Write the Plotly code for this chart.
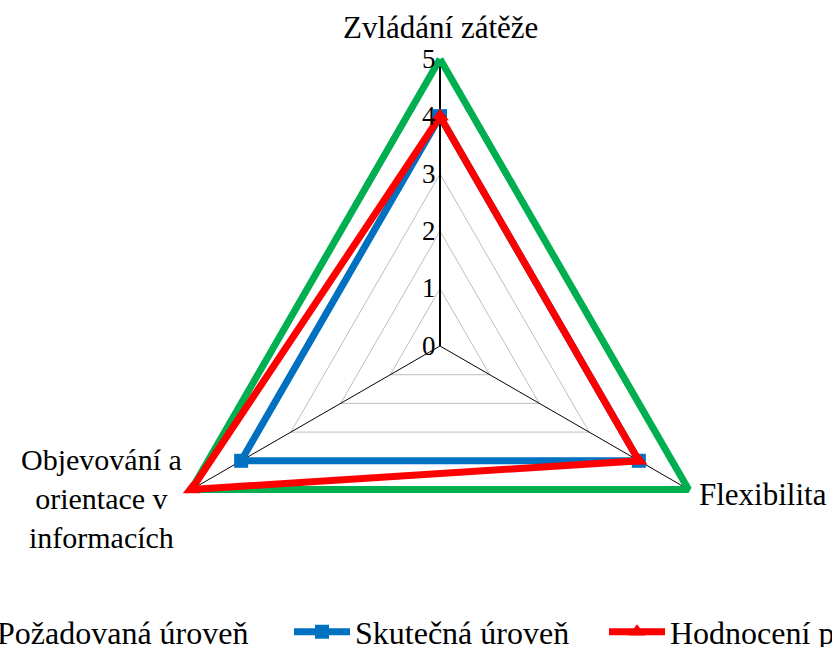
import plotly.graph_objects as go

categories = ["Zvládání zátěže", "Flexibilita", "Objevování a orientace v informacích"]
category_labels = ["Zvládání zátěže", "Flexibilita", "Objevování a<br>orientace v<br>informacích"]
series_names = ["Požadovaná úroveň", "Skutečná úroveň", "Hodnocení pracovníka"]
pozadovana = [5, 5, 5]
skutecna = [4, 4, 4]
hodnoceni = [4, 4, 5]
radial_ticks = [0, 1, 2, 3, 4, 5]
r_max = 5

FONT = "Liberation Serif, Times New Roman, serif"
W, H = 832, 647
CX, CY, R5 = 440, 346, 287          # pixel centre and radius of value 5
RANGE_MAX = 5.2
R_EDGE = R5 * RANGE_MAX / r_max

def closed(v):
    return v + v[:1]

fig = go.Figure()

# spokes (category axes) from 0 to max value
for i, cat in enumerate(categories):
    fig.add_trace(go.Scatterpolar(
        r=[0, r_max], theta=[cat, cat], mode="lines",
        line=dict(color="black", width=2 if i == 0 else 1),
        showlegend=False, hoverinfo="skip"))

fig.add_trace(go.Scatterpolar(
    r=closed(pozadovana), theta=closed(categories), name=series_names[0],
    mode="lines", line=dict(color="#00B050", width=7), cliponaxis=False,
    legend="legend"))
fig.add_trace(go.Scatterpolar(
    r=closed(skutecna), theta=closed(categories), name=series_names[1],
    mode="lines+markers", line=dict(color="#0070C0", width=7),
    marker=dict(symbol="square", size=14, color="#0070C0"), cliponaxis=False,
    legend="legend2"))
fig.add_trace(go.Scatterpolar(
    r=closed(hodnoceni), theta=closed(categories), name=series_names[2],
    mode="lines+markers", line=dict(color="#FF0000", width=7),
    marker=dict(symbol="triangle-up", size=15, color="#FF0000"), cliponaxis=False,
    legend="legend3"))

def leg(xpx):
    return dict(orientation="h", x=xpx / W, xanchor="left", y=1 - 632 / H, yanchor="middle",
                font=dict(size=32, family=FONT), itemwidth=56, bgcolor="rgba(0,0,0,0)")

fig.update_layout(
    width=W, height=H,
    margin=dict(l=0, r=0, t=0, b=0, autoexpand=False),
    paper_bgcolor="white",
    font=dict(family=FONT, size=31, color="black"),
    polar=dict(
        domain=dict(x=[(CX - R_EDGE) / W, (CX + R_EDGE) / W],
                    y=[1 - (CY + R_EDGE) / H, 1 - (CY - R_EDGE) / H]),
        bgcolor="white",
        gridshape="linear",
        angularaxis=dict(
            rotation=90, direction="clockwise",
            showline=False, showgrid=False,
            ticks="", showticklabels=False),
        radialaxis=dict(
            range=[0, RANGE_MAX], tickvals=radial_ticks, angle=90, side="counterclockwise",
            tickangle=90, showline=False,
            gridcolor="#BFBFBF", gridwidth=1, ticks="",
            tickfont=dict(size=27, family=FONT)),
    ),
    legend=leg(-69),
    legend2=leg(289),
    legend3=leg(604),
    showlegend=True,
    annotations=[
        dict(text=category_labels[0], x=440 / W, y=1 - 28 / H, xref="paper", yref="paper",
             xanchor="center", yanchor="middle", showarrow=False, font=dict(size=31, family=FONT)),
        dict(text=category_labels[1], x=697 / W, y=1 - 494 / H, xref="paper", yref="paper",
             xanchor="left", yanchor="middle", showarrow=False, font=dict(size=31, family=FONT)),
        dict(text=category_labels[2], x=184 / W, y=1 - 498 / H, xref="paper", yref="paper",
             xanchor="right", yanchor="middle", align="center", showarrow=False,
             font=dict(size=30, family=FONT)),
    ],
)

fig.write_html("out.html", config={"displayModeBar": False},
               post_script="document.body.style.margin='0';")
